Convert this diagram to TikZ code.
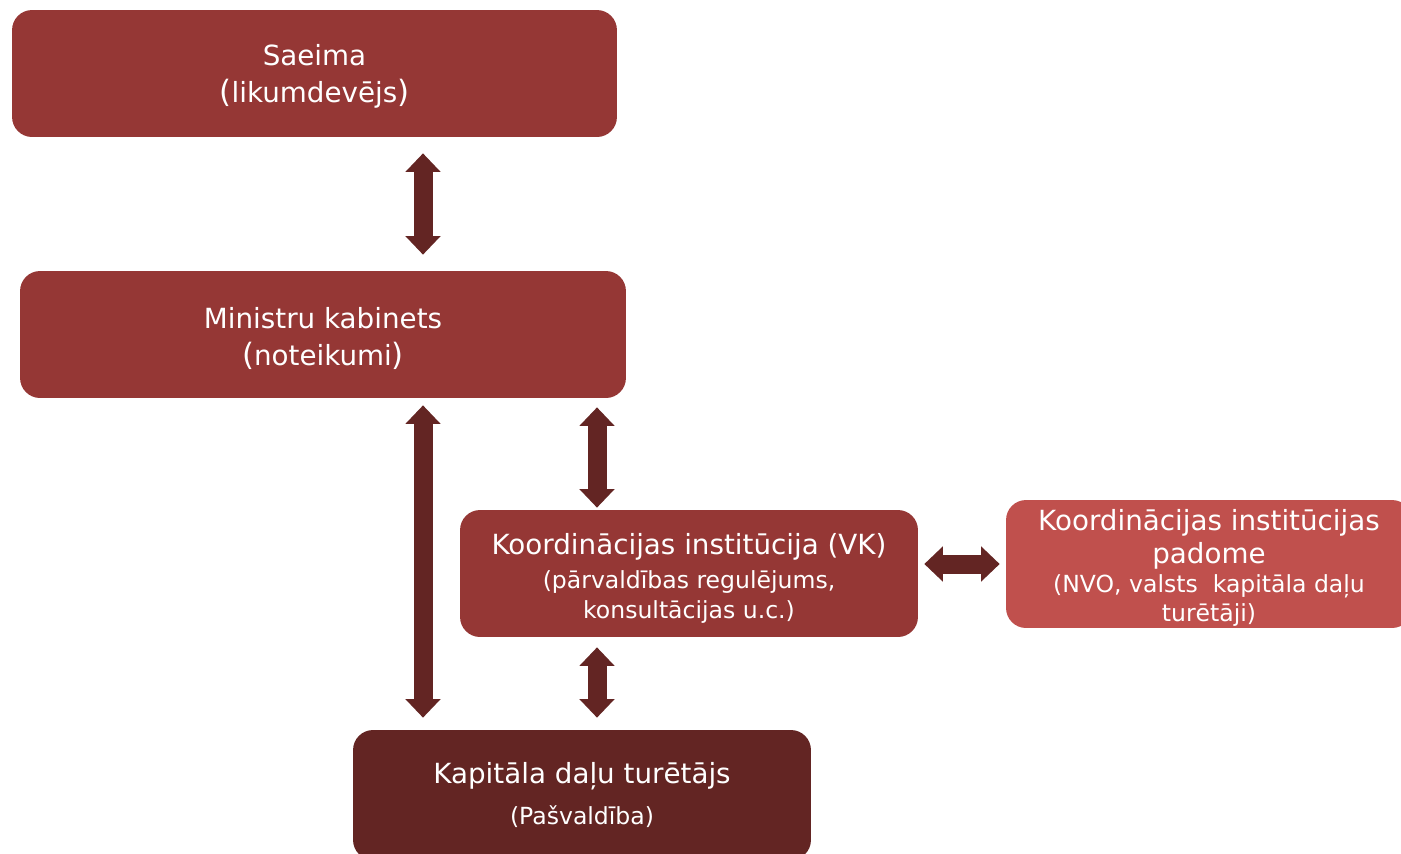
\documentclass[tikz,border=0pt]{standalone}
\usepackage{fontspec}
\setmainfont{DejaVu Sans}
\usetikzlibrary{arrows.meta}

\definecolor{boxred}{HTML}{953735}
\definecolor{lightred}{HTML}{C0504D}
\definecolor{darkred}{HTML}{632523}

\newcommand{\bigtxt}{\fontsize{15.8}{21}\selectfont}
\newcommand{\smalltxt}{\fontsize{13.4}{17}\selectfont}
\newcommand{\lpar}{{\fontsize{17.5}{17.5}\selectfont(}}
\newcommand{\rpar}{{\fontsize{17.5}{17.5}\selectfont)}}
\newcommand{\topstrut}[1]{\rule{0pt}{#1}}

\begin{document}
\begin{tikzpicture}[x=0.02cm,y=-0.02cm,
  box/.style={rounded corners=0.4cm, fill=boxred, text=white, align=center,
    inner sep=0pt, font=\bigtxt},
  link/.style={draw=darkred, line width=0.38cm,
    {Triangle[width=0.68cm,length=0.37cm]}-{Triangle[width=0.68cm,length=0.37cm]}}]
\useasboundingbox (0,0) rectangle (1401,853);

% boxes
\node[box, minimum width=12.1cm, minimum height=2.54cm] (saeima) at (314.5,73.5)
  {\topstrut{15.5pt}Saeima\\\lpar likumdevējs\rpar};
\node[box, minimum width=12.12cm, minimum height=2.54cm] (mk) at (323,334.5)
  {\topstrut{16.5pt}Ministru kabinets\\\lpar noteikumi\rpar};
\node[box, minimum width=9.16cm, minimum height=2.54cm] (koord) at (689,573.5)
  {\topstrut{17.6pt}Koordinācijas institūcija (VK)\\[-2pt]
   {\smalltxt (pārvaldības regulējums,}\\[-4pt]
   {\smalltxt konsultācijas u.c.)}};
\node[box, fill=lightred, minimum width=8.12cm, minimum height=2.56cm] (padome) at (1209,564)
  {\topstrut{16pt}Koordinācijas institūcijas\\[-2.3pt]padome\\[-4pt]
   {\smalltxt (NVO, valsts\ \ kapitāla daļu}\\[-5pt]
   {\smalltxt turētāji)}};
\node[box, fill=darkred, minimum width=9.16cm, minimum height=2.6cm] (kap) at (582,795)
  {Kapitāla daļu turētājs\\[2pt]{\smalltxt (Pašvaldība)}};

\coordinate (colA) at (423,0);
\coordinate (colB) at (597,0);

% links
\draw[link, shorten <=0.32cm, shorten >=0.32cm] (saeima.south -| colA) -- (mk.north -| colA);
\draw[link, shorten <=0.14cm, shorten >=0.24cm] (mk.south -| colA) -- (kap.north -| colA);
\draw[link, shorten <=0.18cm, shorten >=0.04cm] (mk.south -| colB) -- (koord.north -| colB);
\draw[link, shorten <=0.2cm, shorten >=0.24cm] (koord.south -| colB) -- (kap.north -| colB);
\draw[link, shorten <=0.12cm, shorten >=0.12cm] (koord.east |- padome.west) -- (padome.west);

\end{tikzpicture}
\end{document}
